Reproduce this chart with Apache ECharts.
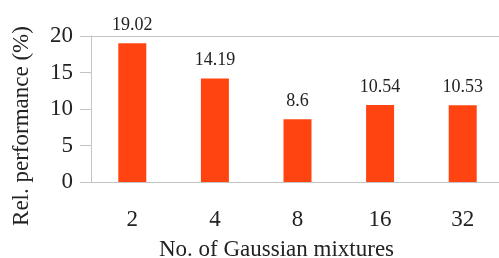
<!DOCTYPE html>
<html>
<head>
<meta charset="utf-8">
<script src="https://cdn.jsdelivr.net/npm/echarts@6/dist/echarts.min.js"></script>
<style>
  html, body { margin: 0; padding: 0; background: #fff; }
  #chart { width: 499px; height: 258px; }
</style>
</head>
<body>
<div id="chart"></div>
<script>
// 数据
const mixtures = ['2', '4', '8', '16', '32']
const relPerformance = [19.02, 14.19, 8.6, 10.54, 10.53]
const yTicks = [0, 5, 10, 15, 20]

const font = 'Liberation Serif, Times New Roman, serif'
const axisGray = '#c4c4c4'

const chart = echarts.init(document.getElementById('chart'))
chart.setOption({
  animation: false,
  grid: {
    left: 91,
    top: 36,
    right: -5,
    bottom: 76,
    outerBoundsMode: 'none',
    containLabel: false
  },
  xAxis: {
    type: 'category',
    data: mixtures,
    name: 'No. of Gaussian mixtures',
    nameLocation: 'middle',
    nameGap: 56,
    nameTextStyle: { fontFamily: font, fontSize: 23, color: '#222', padding: [0, 42, 0, 0] },
    axisLine: { lineStyle: { color: axisGray } },
    axisTick: { length: 11, lineStyle: { color: axisGray } },
    axisLabel: { fontFamily: font, fontSize: 23, color: '#222', margin: 26 }
  },
  yAxis: {
    type: 'value',
    min: yTicks[0],
    max: yTicks[yTicks.length - 1],
    interval: 5,
    name: 'Rel. performance (%)',
    nameLocation: 'middle',
    nameGap: 58,
    nameTextStyle: { fontFamily: font, fontSize: 23, color: '#222', padding: [0, 34, 0, 0] },
    axisLine: { show: true, lineStyle: { color: axisGray } },
    axisTick: { show: true, length: 11, lineStyle: { color: axisGray } },
    splitLine: { show: false },
    axisLabel: { fontFamily: font, fontSize: 23, color: '#222', margin: 18 }
  },
  series: [
    {
      type: 'bar',
      data: relPerformance,
      barWidth: 28,
      itemStyle: { color: '#ff4411' },
      label: {
        show: true,
        position: 'top',
        distance: 9,
        fontFamily: font,
        fontSize: 18,
        color: '#222'
      },
      // 顶部边框线
      markLine: {
        silent: true,
        symbol: 'none',
        label: { show: false },
        lineStyle: { color: axisGray, type: 'solid', width: 1 },
        data: [{ yAxis: yTicks[yTicks.length - 1] }]
      }
    }
  ]
})
</script>
</body>
</html>
